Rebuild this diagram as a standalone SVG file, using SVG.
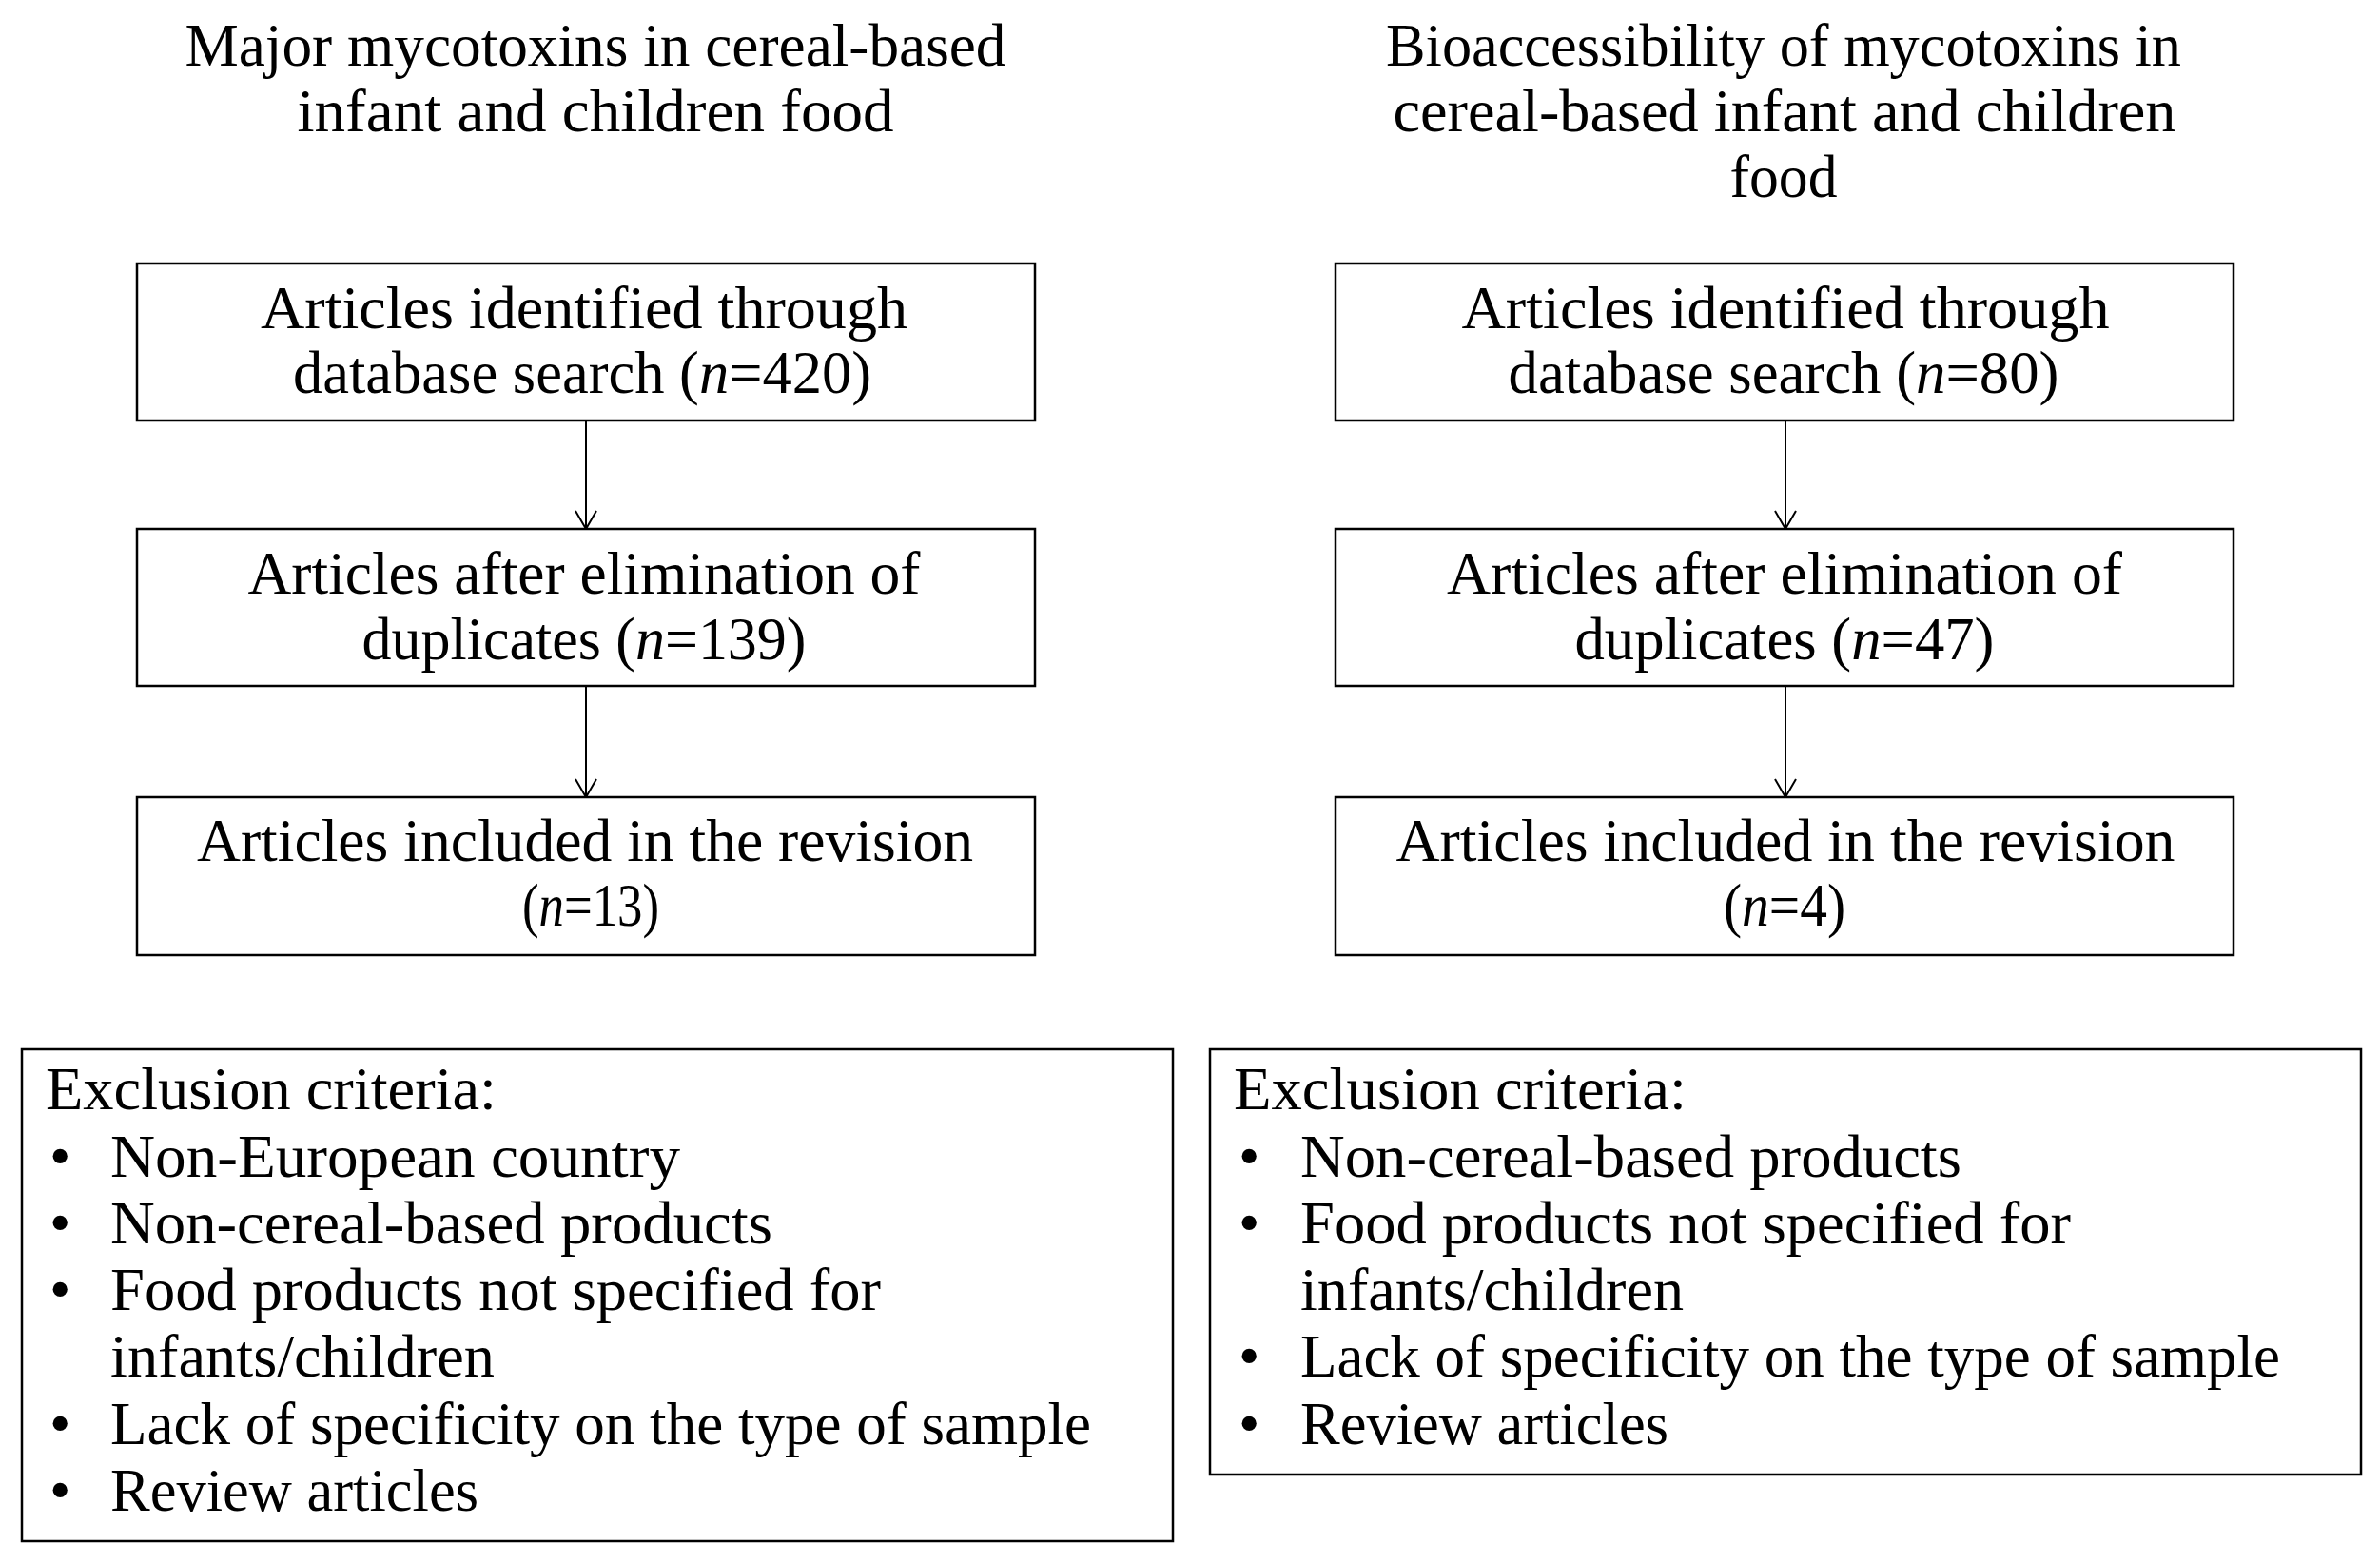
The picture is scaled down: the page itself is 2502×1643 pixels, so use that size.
<svg xmlns="http://www.w3.org/2000/svg" width="2502" height="1643" viewBox="0 0 2502 1643">
<style>
text { font-family: "Liberation Serif", "Times New Roman", serif; font-size: 64px; fill: #000; }
.c { text-anchor: middle; }
.box { fill: #fff; stroke: #000; stroke-width: 2.5; }
.conn { stroke: #000; stroke-width: 2; fill: none; }
.i { font-style: italic; }
</style>
<defs>
<marker id="arr" viewBox="-21 -13 23 26" markerWidth="23" markerHeight="26" refX="0" refY="0" orient="auto" markerUnits="userSpaceOnUse" overflow="visible">
<path d="M -19 -11 L 0 0 L -19 11" fill="none" stroke="#000" stroke-width="2"/>
</marker>
</defs>
<rect width="2502" height="1643" fill="#fff"/>
<g id="title-left">
<text x="626" y="69" class="c" textLength="863" lengthAdjust="spacingAndGlyphs">Major mycotoxins in cereal-based</text>
<text x="626" y="138" class="c" textLength="627" lengthAdjust="spacingAndGlyphs">infant and children food</text>
</g>
<g id="title-right">
<text x="1875" y="69" class="c" textLength="836" lengthAdjust="spacingAndGlyphs">Bioaccessibility of mycotoxins in</text>
<text x="1876" y="138" class="c" textLength="823" lengthAdjust="spacingAndGlyphs">cereal-based infant and children</text>
<text x="1875" y="207" class="c" textLength="113" lengthAdjust="spacingAndGlyphs">food</text>
</g>
<g id="connectors">
<line class="conn" x1="616" y1="442" x2="616" y2="556" marker-end="url(#arr)"/>
<line class="conn" x1="616" y1="721" x2="616" y2="838" marker-end="url(#arr)"/>
<line class="conn" x1="1877" y1="442" x2="1877" y2="556" marker-end="url(#arr)"/>
<line class="conn" x1="1877" y1="721" x2="1877" y2="838" marker-end="url(#arr)"/>
</g>
<g id="left-identified">
<rect class="box" x="144" y="277" width="944" height="165"/>
<text x="614" y="345" class="c" textLength="680" lengthAdjust="spacingAndGlyphs">Articles identified through</text>
<text x="612" y="413" class="c" textLength="608" lengthAdjust="spacingAndGlyphs">database search (<tspan class="i">n</tspan>=420)</text>
</g>
<g id="left-duplicates">
<rect class="box" x="144" y="556" width="944" height="165"/>
<text x="614" y="624" class="c" textLength="707" lengthAdjust="spacingAndGlyphs">Articles after elimination of</text>
<text x="614" y="693" class="c" textLength="467" lengthAdjust="spacingAndGlyphs">duplicates (<tspan class="i">n</tspan>=139)</text>
</g>
<g id="left-included">
<rect class="box" x="144" y="838" width="944" height="166"/>
<text x="615" y="905" class="c" textLength="816" lengthAdjust="spacingAndGlyphs">Articles included in the revision</text>
<text x="621" y="973" class="c" textLength="144" lengthAdjust="spacingAndGlyphs">(<tspan class="i">n</tspan>=13)</text>
</g>
<g id="right-identified">
<rect class="box" x="1404" y="277" width="944" height="165"/>
<text x="1877" y="345" class="c" textLength="681" lengthAdjust="spacingAndGlyphs">Articles identified through</text>
<text x="1875" y="413" class="c" textLength="579" lengthAdjust="spacingAndGlyphs">database search (<tspan class="i">n</tspan>=80)</text>
</g>
<g id="right-duplicates">
<rect class="box" x="1404" y="556" width="944" height="165"/>
<text x="1876" y="624" class="c" textLength="710" lengthAdjust="spacingAndGlyphs">Articles after elimination of</text>
<text x="1876" y="693" class="c" textLength="441" lengthAdjust="spacingAndGlyphs">duplicates (<tspan class="i">n</tspan>=47)</text>
</g>
<g id="right-included">
<rect class="box" x="1404" y="838" width="944" height="166"/>
<text x="1877" y="905" class="c" textLength="819" lengthAdjust="spacingAndGlyphs">Articles included in the revision</text>
<text x="1876" y="973" class="c" textLength="128" lengthAdjust="spacingAndGlyphs">(<tspan class="i">n</tspan>=4)</text>
</g>
<g id="left-exclusion">
<rect class="box" x="23" y="1103" width="1210" height="517"/>
<text x="48" y="1166" textLength="474" lengthAdjust="spacingAndGlyphs">Exclusion criteria:</text>
<text x="52" y="1237">•</text><text x="116" y="1237" textLength="599" lengthAdjust="spacingAndGlyphs">Non-European country</text>
<text x="52" y="1307">•</text><text x="116" y="1307" textLength="696" lengthAdjust="spacingAndGlyphs">Non-cereal-based products</text>
<text x="52" y="1377">•</text><text x="116" y="1377" textLength="810" lengthAdjust="spacingAndGlyphs">Food products not specified for</text>
<text x="116" y="1447" textLength="404" lengthAdjust="spacingAndGlyphs">infants/children</text>
<text x="52" y="1518">•</text><text x="116" y="1518" textLength="1031" lengthAdjust="spacingAndGlyphs">Lack of specificity on the type of sample</text>
<text x="52" y="1588">•</text><text x="116" y="1588" textLength="387" lengthAdjust="spacingAndGlyphs">Review articles</text>
</g>
<g id="right-exclusion">
<rect class="box" x="1272" y="1103" width="1210" height="447"/>
<text x="1297" y="1166" textLength="476" lengthAdjust="spacingAndGlyphs">Exclusion criteria:</text>
<text x="1302" y="1237">•</text><text x="1367" y="1237" textLength="695" lengthAdjust="spacingAndGlyphs">Non-cereal-based products</text>
<text x="1302" y="1307">•</text><text x="1367" y="1307" textLength="810" lengthAdjust="spacingAndGlyphs">Food products not specified for</text>
<text x="1367" y="1377" textLength="403" lengthAdjust="spacingAndGlyphs">infants/children</text>
<text x="1302" y="1447">•</text><text x="1367" y="1447" textLength="1030" lengthAdjust="spacingAndGlyphs">Lack of specificity on the type of sample</text>
<text x="1302" y="1518">•</text><text x="1367" y="1518" textLength="387" lengthAdjust="spacingAndGlyphs">Review articles</text>
</g>
</svg>
